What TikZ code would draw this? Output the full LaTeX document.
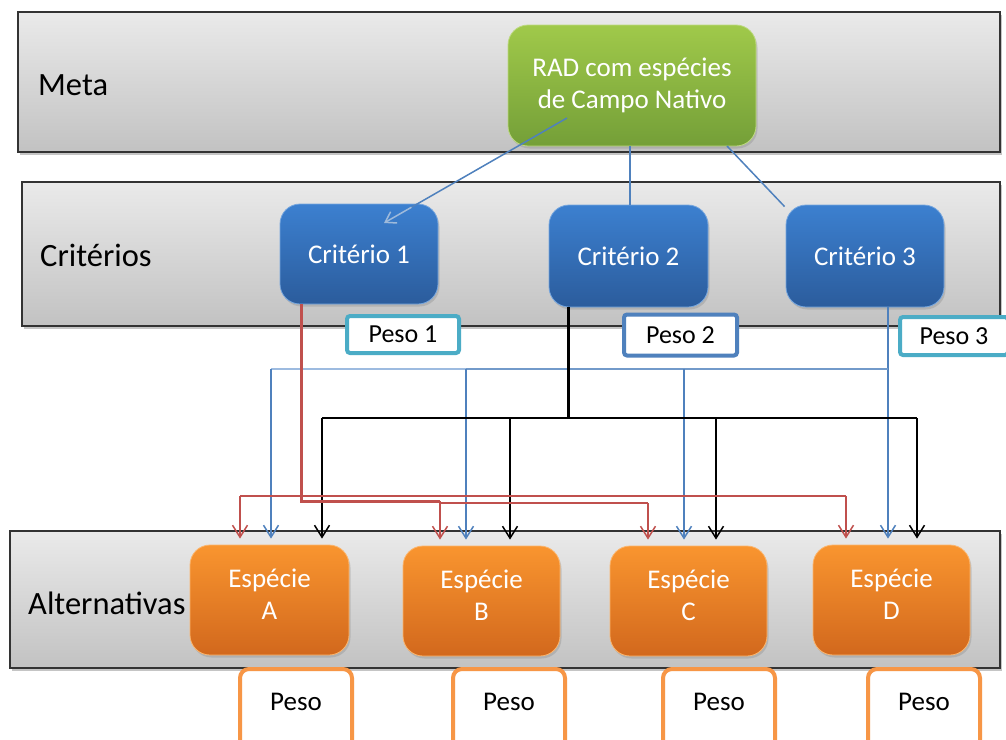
\documentclass[tikz,border=0pt]{standalone}
\usepackage{fontspec}
\setmainfont{Carlito}
\usetikzlibrary{shadows,arrows.meta,calc}
\definecolor{bandtop}{HTML}{EAEAEA}
\definecolor{bandbot}{HTML}{C2C2C2}
\definecolor{grtop}{HTML}{A0C94A}
\definecolor{grbot}{HTML}{749F38}
\definecolor{bltop}{HTML}{3C80D0}
\definecolor{blbot}{HTML}{2B5C9C}
\definecolor{ortop}{HTML}{F9952F}
\definecolor{orbot}{HTML}{D2681D}
\definecolor{lnblue}{HTML}{4F81BD}
\definecolor{lnlight}{HTML}{9DBBE0}
\definecolor{lnred}{HTML}{C0504D}
\definecolor{teal}{HTML}{4BACC6}
\definecolor{orln}{HTML}{F79646}
\tikzset{
  band/.style={draw=black!80, line width=1.6pt, top color=bandtop, bottom color=bandbot,
    inner sep=0pt, drop shadow={shadow xshift=2pt, shadow yshift=-3pt, opacity=.45}},
  lab/.style={font=\fontsize{32.5}{38}\selectfont, text=black, anchor=west, inner sep=0pt},
  boxtxt/.style={font=\fontsize{27}{32}\selectfont, text=white, align=center, inner sep=0pt,
    rounded corners=20pt, drop shadow={shadow xshift=1.5pt, shadow yshift=-2.5pt, opacity=.3}},
  goalbox/.style={boxtxt, top color=grtop, bottom color=grbot, draw=grtop!70!white, line width=0.8pt},
  critbox/.style={boxtxt, top color=bltop, bottom color=blbot, draw=bltop!70!white, line width=0.8pt},
  altbox/.style={boxtxt, top color=ortop, bottom color=orbot, draw=ortop!70!white, line width=0.8pt, text depth=12pt},
  pesobox/.style={fill=white, line width=4pt, rounded corners=3pt, inner sep=0pt,
    font=\fontsize{26}{30}\selectfont, text=black},
  pesoalt/.style={fill=white, draw=orln, line width=4pt, rounded corners=9pt, inner sep=0pt,
    font=\fontsize{27}{32}\selectfont, text=black, minimum width=112pt, minimum height=100pt, text depth=34pt},
  arr/.style={-{Straight Barb[length=12pt,width=15pt]}, shorten >=6pt},
  thin/.style={line width=1.5pt},
}
\begin{document}
\begin{tikzpicture}[x=1pt,y=-1pt]
\useasboundingbox (0,0) rectangle (1006,739);
\fill[white] (0,0) rectangle (1006,739);

% bands
\node[band, minimum width=982pt, minimum height=140pt] (metaband) at (509,82) {};
\node[band, minimum width=978pt, minimum height=144pt] (critband) at (511,254) {};
\node[band, minimum width=990pt, minimum height=137pt] (altband) at (505,599.5) {};

\node[lab] (metalab) at (38,85) {Meta};
\node[lab] (critlab) at (40,255) {Critérios};
\node[lab] (altlab) at (28,603) {Alternativas};

% nodes
\node[goalbox, minimum width=248pt, minimum height=121pt] (goal) at (632,85.5) {RAD com espécies\\de Campo Nativo};
\node[critbox, minimum width=158pt, minimum height=100pt] (c1) at (359,254) {Critério 1};
\node[critbox, minimum width=159pt, minimum height=102pt] (c2) at (628.5,256) {Critério 2};
\node[critbox, minimum width=158pt, minimum height=102pt] (c3) at (865,256) {Critério 3};

\node[altbox, minimum width=159pt, minimum height=110pt] (sA) at (269.5,600) {Espécie\\A};
\node[altbox, minimum width=157pt, minimum height=110pt] (sB) at (481.5,601) {Espécie\\B};
\node[altbox, minimum width=157pt, minimum height=110pt] (sC) at (688.5,601) {Espécie\\C};
\node[altbox, minimum width=157pt, minimum height=110pt] (sD) at (891.5,600) {Espécie\\D};

% goal -> criteria
\coordinate (gA) at (567,118);
\coordinate (c1A) at (384,223);
\coordinate (gB) at (727,146);
\draw[lnblue, thin] (gA) -- ($(gA)!0.86!(c1A)$);
\draw[lnblue!55!white, thin, -{Straight Barb[length=10pt,width=13pt]}] ($(gA)!0.85!(c1A)$) -- (c1A);
\draw[lnblue, thin] (goal.south -| 630,0) -- (c2.north -| 630,0);
\draw[lnblue, thin] (gB) -- ([xshift=-1pt,yshift=-2pt]c3.north west);

% blue connectors (Criterio 3)
\draw[lnblue, thin, arr] (c3.south -| 888,0) -- (sD.north -| 888,0);
\draw[lnlight, line width=2.5pt] (271,369) -- (466,369);
\draw[lnblue!80!white, line width=2.5pt] (466,369) -- (888,369);
\draw[lnblue, thin, arr] (271,369) -- (sA.north -| 271,0);
\draw[lnblue, thin, arr] (466,369) -- (sB.north -| 466,0);
\draw[lnblue, thin, arr] (684,369) -- (sC.north -| 684,0);

% black connectors (Criterio 2)
\draw[black, line width=3pt] (c2.south -| 568,0) -- (568,418);
\draw[black, line width=2pt] (322,418) -- (917,418);
\draw[black, thin, arr] (322,418) -- (sA.north -| 322,0);
\draw[black, thin, arr] (510,418) -- (sB.north -| 510,0);
\draw[black, thin, arr] (716,418) -- (sC.north -| 716,0);
\draw[black, thin, arr] (917,418) -- (sD.north -| 917,0);

% red connectors (Criterio 1)
\draw[lnred, thin] (240,496) -- (846,496);
\draw[lnred, thin] (440,503) -- (648,503);
\draw[lnred, line width=3pt] (c1.south -| 301,0) -- (301,501) -- (440,501);
\draw[lnred, thin, arr] (240,496) -- (sA.north -| 240,0);
\draw[lnred, thin, arr] (440,501) -- (sB.north -| 440,0);
\draw[lnred, thin, arr] (648,503) -- (sC.north -| 648,0);
\draw[lnred, thin, arr] (846,496) -- (sD.north -| 846,0);

% weight boxes (criteria)
\node[pesobox, draw=teal, minimum width=112pt, minimum height=37pt] (p1) at (403,334.5) {Peso 1};
\node[pesobox, draw=lnblue, minimum width=113pt, minimum height=41pt] (p2) at (680.5,335) {Peso 2};
\node[pesobox, draw=teal, minimum width=108pt, minimum height=38pt] (p3) at (954,336) {Peso 3};

% weight boxes (alternatives)
\node[pesoalt] (wA) at (296,719) {Peso};
\node[pesoalt] (wB) at (509,719) {Peso};
\node[pesoalt] (wC) at (719,719) {Peso};
\node[pesoalt] (wD) at (924,719) {Peso};
\end{tikzpicture}
\end{document}
